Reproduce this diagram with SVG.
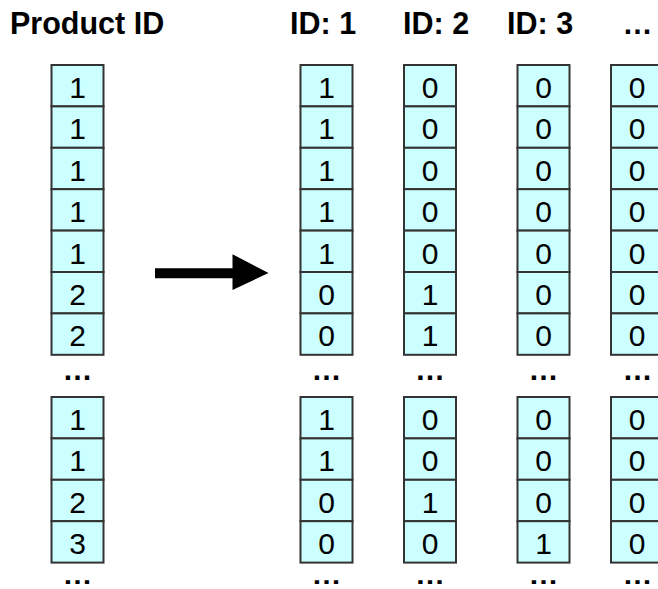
<svg xmlns="http://www.w3.org/2000/svg" width="658" height="589" viewBox="0 0 658 589">
<style>
.c{fill:#CCFFFF;stroke:#333;stroke-width:2}
.d{font-family:"Liberation Sans",Arial,sans-serif;font-size:30px;fill:#000;text-anchor:middle}
.h{font-family:"Liberation Sans",Arial,sans-serif;font-size:30.5px;font-weight:bold;fill:#000}
.e{font-family:"Liberation Sans",Arial,sans-serif;font-size:30px;font-weight:bold;fill:#000;text-anchor:middle}
.b{font-family:"Liberation Sans",Arial,sans-serif;font-size:25px;font-weight:bold;fill:#000;text-anchor:middle}
</style>
<rect width="658" height="589" fill="#fff"/>
<g id="headers">
<text class="h" x="10" y="33.5">Product ID</text>
<text class="h" x="290" y="33.5">ID: 1</text>
<text class="h" x="403" y="33.5">ID: 2</text>
<text class="h" x="507" y="33.5">ID: 3</text>
<text class="e" x="637.5" y="33.5">…</text>
</g>
<g id="col-product">
<rect class="c" x="51.5" y="65" width="52" height="41.4"/><rect class="c" x="51.5" y="106.4" width="52" height="41.4"/><rect class="c" x="51.5" y="147.8" width="52" height="41.4"/><rect class="c" x="51.5" y="189.2" width="52" height="41.4"/><rect class="c" x="51.5" y="230.6" width="52" height="41.4"/><rect class="c" x="51.5" y="272" width="52" height="41.4"/><rect class="c" x="51.5" y="313.4" width="52" height="41.4"/>
<text class="d" x="77.5" y="98">1</text><text class="d" x="77.5" y="139.4">1</text><text class="d" x="77.5" y="180.8">1</text><text class="d" x="77.5" y="222.2">1</text><text class="d" x="77.5" y="263.6">1</text><text class="d" x="77.5" y="305">2</text><text class="d" x="77.5" y="346.4">2</text>
<text class="e" x="77.5" y="380">…</text>
<rect class="c" x="51.5" y="397" width="52" height="41.4"/><rect class="c" x="51.5" y="438.4" width="52" height="41.4"/><rect class="c" x="51.5" y="479.8" width="52" height="41.4"/><rect class="c" x="51.5" y="521.2" width="52" height="41.4"/>
<text class="d" x="77.5" y="430">1</text><text class="d" x="77.5" y="471.4">1</text><text class="d" x="77.5" y="512.8">2</text><text class="d" x="77.5" y="554.2">3</text>
<text class="b" x="77.5" y="583.5" textLength="30" lengthAdjust="spacingAndGlyphs">…</text>
</g>
<g id="col-id1">
<rect class="c" x="300.5" y="65" width="52" height="41.4"/><rect class="c" x="300.5" y="106.4" width="52" height="41.4"/><rect class="c" x="300.5" y="147.8" width="52" height="41.4"/><rect class="c" x="300.5" y="189.2" width="52" height="41.4"/><rect class="c" x="300.5" y="230.6" width="52" height="41.4"/><rect class="c" x="300.5" y="272" width="52" height="41.4"/><rect class="c" x="300.5" y="313.4" width="52" height="41.4"/>
<text class="d" x="326.5" y="98">1</text><text class="d" x="326.5" y="139.4">1</text><text class="d" x="326.5" y="180.8">1</text><text class="d" x="326.5" y="222.2">1</text><text class="d" x="326.5" y="263.6">1</text><text class="d" x="326.5" y="305">0</text><text class="d" x="326.5" y="346.4">0</text>
<text class="e" x="326.5" y="380">…</text>
<rect class="c" x="300.5" y="397" width="52" height="41.4"/><rect class="c" x="300.5" y="438.4" width="52" height="41.4"/><rect class="c" x="300.5" y="479.8" width="52" height="41.4"/><rect class="c" x="300.5" y="521.2" width="52" height="41.4"/>
<text class="d" x="326.5" y="430">1</text><text class="d" x="326.5" y="471.4">1</text><text class="d" x="326.5" y="512.8">0</text><text class="d" x="326.5" y="554.2">0</text>
<text class="b" x="326.5" y="583.5" textLength="30" lengthAdjust="spacingAndGlyphs">…</text>
</g>
<g id="col-id2">
<rect class="c" x="404" y="65" width="52" height="41.4"/><rect class="c" x="404" y="106.4" width="52" height="41.4"/><rect class="c" x="404" y="147.8" width="52" height="41.4"/><rect class="c" x="404" y="189.2" width="52" height="41.4"/><rect class="c" x="404" y="230.6" width="52" height="41.4"/><rect class="c" x="404" y="272" width="52" height="41.4"/><rect class="c" x="404" y="313.4" width="52" height="41.4"/>
<text class="d" x="430" y="98">0</text><text class="d" x="430" y="139.4">0</text><text class="d" x="430" y="180.8">0</text><text class="d" x="430" y="222.2">0</text><text class="d" x="430" y="263.6">0</text><text class="d" x="430" y="305">1</text><text class="d" x="430" y="346.4">1</text>
<text class="e" x="430" y="380">…</text>
<rect class="c" x="404" y="397" width="52" height="41.4"/><rect class="c" x="404" y="438.4" width="52" height="41.4"/><rect class="c" x="404" y="479.8" width="52" height="41.4"/><rect class="c" x="404" y="521.2" width="52" height="41.4"/>
<text class="d" x="430" y="430">0</text><text class="d" x="430" y="471.4">0</text><text class="d" x="430" y="512.8">1</text><text class="d" x="430" y="554.2">0</text>
<text class="b" x="430" y="583.5" textLength="30" lengthAdjust="spacingAndGlyphs">…</text>
</g>
<g id="col-id3">
<rect class="c" x="517.5" y="65" width="52" height="41.4"/><rect class="c" x="517.5" y="106.4" width="52" height="41.4"/><rect class="c" x="517.5" y="147.8" width="52" height="41.4"/><rect class="c" x="517.5" y="189.2" width="52" height="41.4"/><rect class="c" x="517.5" y="230.6" width="52" height="41.4"/><rect class="c" x="517.5" y="272" width="52" height="41.4"/><rect class="c" x="517.5" y="313.4" width="52" height="41.4"/>
<text class="d" x="543.5" y="98">0</text><text class="d" x="543.5" y="139.4">0</text><text class="d" x="543.5" y="180.8">0</text><text class="d" x="543.5" y="222.2">0</text><text class="d" x="543.5" y="263.6">0</text><text class="d" x="543.5" y="305">0</text><text class="d" x="543.5" y="346.4">0</text>
<text class="e" x="543.5" y="380">…</text>
<rect class="c" x="517.5" y="397" width="52" height="41.4"/><rect class="c" x="517.5" y="438.4" width="52" height="41.4"/><rect class="c" x="517.5" y="479.8" width="52" height="41.4"/><rect class="c" x="517.5" y="521.2" width="52" height="41.4"/>
<text class="d" x="543.5" y="430">0</text><text class="d" x="543.5" y="471.4">0</text><text class="d" x="543.5" y="512.8">0</text><text class="d" x="543.5" y="554.2">1</text>
<text class="b" x="543.5" y="583.5" textLength="30" lengthAdjust="spacingAndGlyphs">…</text>
</g>
<g id="col-more">
<rect class="c" x="611" y="65" width="52" height="41.4"/><rect class="c" x="611" y="106.4" width="52" height="41.4"/><rect class="c" x="611" y="147.8" width="52" height="41.4"/><rect class="c" x="611" y="189.2" width="52" height="41.4"/><rect class="c" x="611" y="230.6" width="52" height="41.4"/><rect class="c" x="611" y="272" width="52" height="41.4"/><rect class="c" x="611" y="313.4" width="52" height="41.4"/>
<text class="d" x="637" y="98">0</text><text class="d" x="637" y="139.4">0</text><text class="d" x="637" y="180.8">0</text><text class="d" x="637" y="222.2">0</text><text class="d" x="637" y="263.6">0</text><text class="d" x="637" y="305">0</text><text class="d" x="637" y="346.4">0</text>
<text class="e" x="637.5" y="380">…</text>
<rect class="c" x="611" y="397" width="52" height="41.4"/><rect class="c" x="611" y="438.4" width="52" height="41.4"/><rect class="c" x="611" y="479.8" width="52" height="41.4"/><rect class="c" x="611" y="521.2" width="52" height="41.4"/>
<text class="d" x="637" y="430">0</text><text class="d" x="637" y="471.4">0</text><text class="d" x="637" y="512.8">0</text><text class="d" x="637" y="554.2">0</text>
<text class="b" x="637.5" y="583.5" textLength="30" lengthAdjust="spacingAndGlyphs">…</text>
</g>
<g id="connectors">
<polygon points="155,268.3 232.5,268.3 232.5,254.3 268.5,273 232.5,290 232.5,278.3 155,278.3" fill="#000"/>
</g>
</svg>
